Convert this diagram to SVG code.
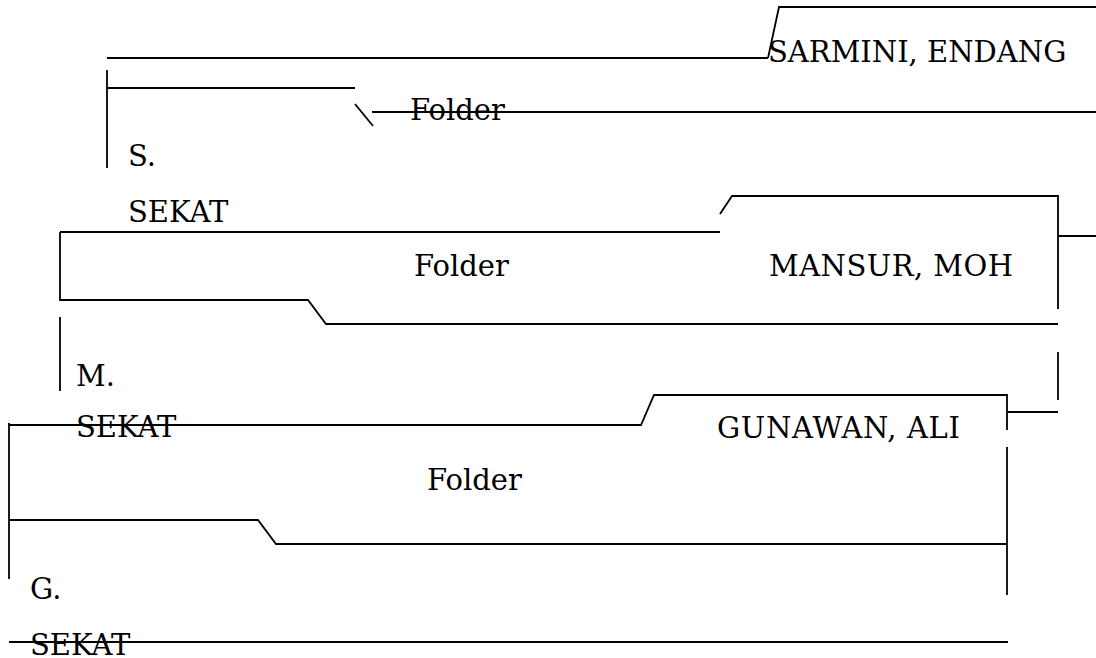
<svg xmlns="http://www.w3.org/2000/svg" width="1096" height="658" viewBox="0 0 1096 658">
<style>
.l{fill:none;stroke:#000;stroke-width:1.8}
text{font-family:"DejaVu Serif","Liberation Serif",serif;font-size:29px;fill:#000}
</style>
<rect width="1096" height="658" fill="#fff"/>
<g id="folder-s">
<polyline class="l" points="107,58 768,58"/>
<polyline class="l" points="768,58 779,7 1096,7"/>
<polyline class="l" points="372,112 1096,112"/>
<polyline class="l" points="107,70 107,168"/>
<polyline class="l" points="107,88 355,88"/>
<polyline class="l" points="355,104 373,126"/>
<text x="768" y="62">SARMINI, ENDANG</text>
<text x="410" y="120">Folder</text>
<text x="128" y="166">S.</text>
<text x="128" y="222">SEKAT</text>
</g>
<g id="folder-m">
<polyline class="l" points="60,232 720,232"/>
<polyline class="l" points="720,214 732,196 1058,196 1058,309"/>
<polyline class="l" points="1058,236 1096,236"/>
<polyline class="l" points="60,232 60,300 308,300 326,324 1058,324"/>
<polyline class="l" points="60,317 60,391"/>
<polyline class="l" points="1058,352 1058,400"/>
<polyline class="l" points="1008,412 1058,412"/>
<text x="414" y="276">Folder</text>
<text x="769" y="276" textLength="244">MANSUR, MOH</text>
<text x="76" y="386">M.</text>
<text x="76" y="437">SEKAT</text>
</g>
<g id="folder-g">
<polyline class="l" points="9,423 9,579"/>
<polyline class="l" points="9,425 641,425 654,395 1007,395 1007,430"/>
<polyline class="l" points="1007,447 1007,595"/>
<polyline class="l" points="9,520 258,520 276,544 1007,544"/>
<polyline class="l" points="9,642 1008,642"/>
<text x="717" y="438" textLength="243">GUNAWAN, ALI</text>
<text x="427" y="490">Folder</text>
<text x="30" y="599">G.</text>
<text x="30" y="655">SEKAT</text>
</g>
</svg>
